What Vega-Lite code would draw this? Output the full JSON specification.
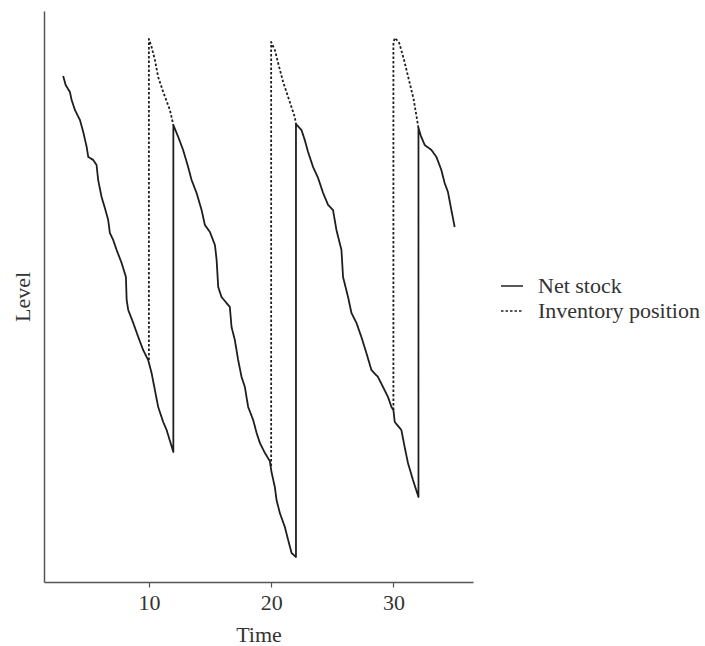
{
  "$schema": "https://vega.github.io/schema/vega-lite/v6.json",
  "width": 429,
  "height": 571,
  "autosize": "none",
  "padding": {"left": 44, "top": 11, "right": 232, "bottom": 64},
  "background": "white",
  "config": {"view": {"stroke": null}, "font": "Liberation Serif"},
  "datasets": {
    "rows": [
      {"series": "Net stock", "segment": "N", "order": 1, "time": 2.99, "level": 506},
      {"series": "Net stock", "segment": "N", "order": 2, "time": 3.19, "level": 497},
      {"series": "Net stock", "segment": "N", "order": 3, "time": 3.54, "level": 490},
      {"series": "Net stock", "segment": "N", "order": 4, "time": 3.68, "level": 482},
      {"series": "Net stock", "segment": "N", "order": 5, "time": 3.95, "level": 472},
      {"series": "Net stock", "segment": "N", "order": 6, "time": 4.36, "level": 462},
      {"series": "Net stock", "segment": "N", "order": 7, "time": 4.63, "level": 450},
      {"series": "Net stock", "segment": "N", "order": 8, "time": 4.91, "level": 435},
      {"series": "Net stock", "segment": "N", "order": 9, "time": 5.04, "level": 425},
      {"series": "Net stock", "segment": "N", "order": 10, "time": 5.45, "level": 422},
      {"series": "Net stock", "segment": "N", "order": 11, "time": 5.72, "level": 417},
      {"series": "Net stock", "segment": "N", "order": 12, "time": 5.85, "level": 402},
      {"series": "Net stock", "segment": "N", "order": 13, "time": 6.13, "level": 385},
      {"series": "Net stock", "segment": "N", "order": 14, "time": 6.40, "level": 374},
      {"series": "Net stock", "segment": "N", "order": 15, "time": 6.67, "level": 362},
      {"series": "Net stock", "segment": "N", "order": 16, "time": 6.81, "level": 349},
      {"series": "Net stock", "segment": "N", "order": 17, "time": 7.08, "level": 342},
      {"series": "Net stock", "segment": "N", "order": 18, "time": 7.36, "level": 332},
      {"series": "Net stock", "segment": "N", "order": 19, "time": 7.77, "level": 319},
      {"series": "Net stock", "segment": "N", "order": 20, "time": 8.12, "level": 305},
      {"series": "Net stock", "segment": "N", "order": 21, "time": 8.18, "level": 282},
      {"series": "Net stock", "segment": "N", "order": 22, "time": 8.31, "level": 272},
      {"series": "Net stock", "segment": "N", "order": 23, "time": 8.72, "level": 259},
      {"series": "Net stock", "segment": "N", "order": 24, "time": 9.13, "level": 245},
      {"series": "Net stock", "segment": "N", "order": 25, "time": 9.53, "level": 232},
      {"series": "Net stock", "segment": "N", "order": 26, "time": 9.94, "level": 222},
      {"series": "Net stock", "segment": "N", "order": 27, "time": 10.22, "level": 209},
      {"series": "Net stock", "segment": "N", "order": 28, "time": 10.49, "level": 192},
      {"series": "Net stock", "segment": "N", "order": 29, "time": 10.76, "level": 175},
      {"series": "Net stock", "segment": "N", "order": 30, "time": 11.17, "level": 160},
      {"series": "Net stock", "segment": "N", "order": 31, "time": 11.45, "level": 152},
      {"series": "Net stock", "segment": "N", "order": 32, "time": 12.0, "level": 130},
      {"series": "Net stock", "segment": "N", "order": 33, "time": 12.0, "level": 457},
      {"series": "Net stock", "segment": "N", "order": 34, "time": 12.40, "level": 445},
      {"series": "Net stock", "segment": "N", "order": 35, "time": 12.80, "level": 432},
      {"series": "Net stock", "segment": "N", "order": 36, "time": 13.21, "level": 415},
      {"series": "Net stock", "segment": "N", "order": 37, "time": 13.49, "level": 402},
      {"series": "Net stock", "segment": "N", "order": 38, "time": 13.90, "level": 389},
      {"series": "Net stock", "segment": "N", "order": 39, "time": 14.31, "level": 372},
      {"series": "Net stock", "segment": "N", "order": 40, "time": 14.58, "level": 357},
      {"series": "Net stock", "segment": "N", "order": 41, "time": 14.99, "level": 350},
      {"series": "Net stock", "segment": "N", "order": 42, "time": 15.40, "level": 337},
      {"series": "Net stock", "segment": "N", "order": 43, "time": 15.54, "level": 322},
      {"series": "Net stock", "segment": "N", "order": 44, "time": 15.67, "level": 295},
      {"series": "Net stock", "segment": "N", "order": 45, "time": 15.94, "level": 285},
      {"series": "Net stock", "segment": "N", "order": 46, "time": 16.35, "level": 279},
      {"series": "Net stock", "segment": "N", "order": 47, "time": 16.62, "level": 275},
      {"series": "Net stock", "segment": "N", "order": 48, "time": 16.76, "level": 255},
      {"series": "Net stock", "segment": "N", "order": 49, "time": 17.03, "level": 242},
      {"series": "Net stock", "segment": "N", "order": 50, "time": 17.30, "level": 222},
      {"series": "Net stock", "segment": "N", "order": 51, "time": 17.58, "level": 205},
      {"series": "Net stock", "segment": "N", "order": 52, "time": 17.85, "level": 195},
      {"series": "Net stock", "segment": "N", "order": 53, "time": 18.12, "level": 175},
      {"series": "Net stock", "segment": "N", "order": 54, "time": 18.53, "level": 162},
      {"series": "Net stock", "segment": "N", "order": 55, "time": 18.81, "level": 149},
      {"series": "Net stock", "segment": "N", "order": 56, "time": 19.08, "level": 139},
      {"series": "Net stock", "segment": "N", "order": 57, "time": 19.49, "level": 129},
      {"series": "Net stock", "segment": "N", "order": 58, "time": 19.89, "level": 121},
      {"series": "Net stock", "segment": "N", "order": 59, "time": 20.03, "level": 110},
      {"series": "Net stock", "segment": "N", "order": 60, "time": 20.30, "level": 95},
      {"series": "Net stock", "segment": "N", "order": 61, "time": 20.44, "level": 82},
      {"series": "Net stock", "segment": "N", "order": 62, "time": 20.71, "level": 69},
      {"series": "Net stock", "segment": "N", "order": 63, "time": 21.12, "level": 55},
      {"series": "Net stock", "segment": "N", "order": 64, "time": 21.39, "level": 42},
      {"series": "Net stock", "segment": "N", "order": 65, "time": 21.67, "level": 29},
      {"series": "Net stock", "segment": "N", "order": 66, "time": 22.03, "level": 25},
      {"series": "Net stock", "segment": "N", "order": 67, "time": 22.03, "level": 458},
      {"series": "Net stock", "segment": "N", "order": 68, "time": 22.48, "level": 452},
      {"series": "Net stock", "segment": "N", "order": 69, "time": 22.75, "level": 442},
      {"series": "Net stock", "segment": "N", "order": 70, "time": 23.02, "level": 430},
      {"series": "Net stock", "segment": "N", "order": 71, "time": 23.43, "level": 415},
      {"series": "Net stock", "segment": "N", "order": 72, "time": 23.84, "level": 404},
      {"series": "Net stock", "segment": "N", "order": 73, "time": 24.25, "level": 389},
      {"series": "Net stock", "segment": "N", "order": 74, "time": 24.66, "level": 377},
      {"series": "Net stock", "segment": "N", "order": 75, "time": 25.06, "level": 372},
      {"series": "Net stock", "segment": "N", "order": 76, "time": 25.34, "level": 352},
      {"series": "Net stock", "segment": "N", "order": 77, "time": 25.75, "level": 332},
      {"series": "Net stock", "segment": "N", "order": 78, "time": 25.88, "level": 305},
      {"series": "Net stock", "segment": "N", "order": 79, "time": 26.29, "level": 285},
      {"series": "Net stock", "segment": "N", "order": 80, "time": 26.57, "level": 269},
      {"series": "Net stock", "segment": "N", "order": 81, "time": 26.98, "level": 259},
      {"series": "Net stock", "segment": "N", "order": 82, "time": 27.38, "level": 245},
      {"series": "Net stock", "segment": "N", "order": 83, "time": 27.79, "level": 229},
      {"series": "Net stock", "segment": "N", "order": 84, "time": 28.20, "level": 212},
      {"series": "Net stock", "segment": "N", "order": 85, "time": 28.74, "level": 205},
      {"series": "Net stock", "segment": "N", "order": 86, "time": 29.15, "level": 195},
      {"series": "Net stock", "segment": "N", "order": 87, "time": 29.56, "level": 185},
      {"series": "Net stock", "segment": "N", "order": 88, "time": 29.84, "level": 175},
      {"series": "Net stock", "segment": "N", "order": 89, "time": 30.0, "level": 172},
      {"series": "Net stock", "segment": "N", "order": 90, "time": 30.11, "level": 160},
      {"series": "Net stock", "segment": "N", "order": 91, "time": 30.65, "level": 152},
      {"series": "Net stock", "segment": "N", "order": 92, "time": 30.92, "level": 135},
      {"series": "Net stock", "segment": "N", "order": 93, "time": 31.19, "level": 119},
      {"series": "Net stock", "segment": "N", "order": 94, "time": 31.60, "level": 102},
      {"series": "Net stock", "segment": "N", "order": 95, "time": 32.05, "level": 85},
      {"series": "Net stock", "segment": "N", "order": 96, "time": 32.05, "level": 454},
      {"series": "Net stock", "segment": "N", "order": 97, "time": 32.25, "level": 446},
      {"series": "Net stock", "segment": "N", "order": 98, "time": 32.56, "level": 437},
      {"series": "Net stock", "segment": "N", "order": 99, "time": 33.11, "level": 432},
      {"series": "Net stock", "segment": "N", "order": 100, "time": 33.52, "level": 425},
      {"series": "Net stock", "segment": "N", "order": 101, "time": 33.92, "level": 412},
      {"series": "Net stock", "segment": "N", "order": 102, "time": 34.19, "level": 399},
      {"series": "Net stock", "segment": "N", "order": 103, "time": 34.46, "level": 390},
      {"series": "Net stock", "segment": "N", "order": 104, "time": 34.74, "level": 372},
      {"series": "Net stock", "segment": "N", "order": 105, "time": 35.01, "level": 355},
      {"series": "Inventory position", "segment": "I1", "order": 201, "time": 10.0, "level": 222},
      {"series": "Inventory position", "segment": "I1", "order": 202, "time": 10.0, "level": 543},
      {"series": "Inventory position", "segment": "I1", "order": 203, "time": 10.22, "level": 535},
      {"series": "Inventory position", "segment": "I1", "order": 204, "time": 10.49, "level": 522},
      {"series": "Inventory position", "segment": "I1", "order": 205, "time": 10.76, "level": 505},
      {"series": "Inventory position", "segment": "I1", "order": 206, "time": 11.17, "level": 490},
      {"series": "Inventory position", "segment": "I1", "order": 207, "time": 11.72, "level": 472},
      {"series": "Inventory position", "segment": "I1", "order": 208, "time": 12.0, "level": 457},
      {"series": "Inventory position", "segment": "I2", "order": 301, "time": 20.0, "level": 116},
      {"series": "Inventory position", "segment": "I2", "order": 302, "time": 20.0, "level": 540},
      {"series": "Inventory position", "segment": "I2", "order": 303, "time": 20.30, "level": 532},
      {"series": "Inventory position", "segment": "I2", "order": 304, "time": 20.57, "level": 519},
      {"series": "Inventory position", "segment": "I2", "order": 305, "time": 20.98, "level": 500},
      {"series": "Inventory position", "segment": "I2", "order": 306, "time": 21.39, "level": 485},
      {"series": "Inventory position", "segment": "I2", "order": 307, "time": 21.93, "level": 465},
      {"series": "Inventory position", "segment": "I2", "order": 308, "time": 22.03, "level": 458},
      {"series": "Inventory position", "segment": "I3", "order": 401, "time": 30.0, "level": 172},
      {"series": "Inventory position", "segment": "I3", "order": 402, "time": 30.0, "level": 538},
      {"series": "Inventory position", "segment": "I3", "order": 403, "time": 30.1, "level": 544},
      {"series": "Inventory position", "segment": "I3", "order": 404, "time": 30.45, "level": 540},
      {"series": "Inventory position", "segment": "I3", "order": 405, "time": 30.85, "level": 523},
      {"series": "Inventory position", "segment": "I3", "order": 406, "time": 31.25, "level": 503},
      {"series": "Inventory position", "segment": "I3", "order": 407, "time": 31.65, "level": 483},
      {"series": "Inventory position", "segment": "I3", "order": 408, "time": 32.05, "level": 454}
    ]
  },
  "data": {"name": "rows"},
  "mark": {"type": "line", "strokeWidth": 1.8, "color": "#1e1e1e", "strokeJoin": "round"},
  "encoding": {
    "x": {
      "field": "time", "type": "quantitative",
      "scale": {"domain": [1.42, 36.51], "nice": false, "zero": false},
      "axis": {
        "values": [10, 20, 30], "grid": false,
        "domainColor": "#555555", "domainWidth": 1.5,
        "tickColor": "#555555", "tickSize": 5, "tickWidth": 1.2,
        "labelFont": "Liberation Serif", "labelFontSize": 22, "labelColor": "#333333", "labelPadding": 5,
        "title": "Time", "titleFont": "Liberation Serif", "titleFontSize": 22, "titleFontWeight": "normal",
        "titleColor": "#333333", "titlePadding": 11
      }
    },
    "y": {
      "field": "level", "type": "quantitative",
      "scale": {"domain": [0, 571], "nice": false, "zero": false},
      "axis": {
        "ticks": false, "labels": false, "grid": false,
        "domainColor": "#555555", "domainWidth": 1.5,
        "title": "Level", "titleFont": "Liberation Serif", "titleFontSize": 22, "titleFontWeight": "normal",
        "titleColor": "#333333", "titlePadding": 10
      }
    },
    "strokeDash": {
      "field": "series", "type": "nominal",
      "scale": {"domain": ["Net stock", "Inventory position"], "range": [[1, 0], [2.5, 2]]},
      "legend": {
        "orient": "none", "legendX": 456, "legendY": 263, "title": null,
        "symbolType": "stroke", "symbolSize": 484, "symbolStrokeWidth": 1.5, "symbolStrokeColor": "#222222",
        "labelFont": "Liberation Serif", "labelFontSize": 22, "labelColor": "#333333", "labelLimit": 400,
        "labelOffset": 14, "rowPadding": 2
      }
    },
    "detail": {"field": "segment", "type": "nominal"},
    "order": {"field": "order", "type": "quantitative"}
  }
}
